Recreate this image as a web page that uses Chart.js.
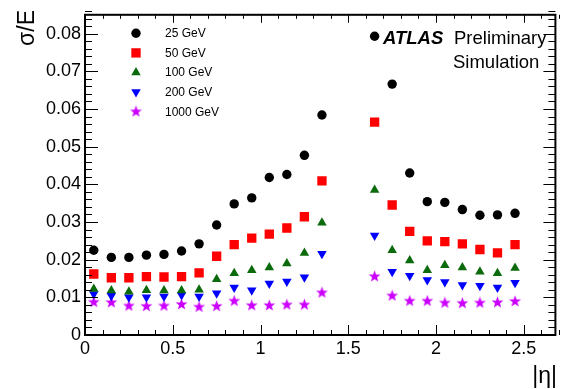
<!DOCTYPE html>
<html>
<head>
<meta charset="utf-8">
<script src="https://cdn.jsdelivr.net/npm/chart.js@4/dist/chart.umd.min.js"></script>
<style>
  html, body { margin: 0; padding: 0; background: #fff; }
  canvas { display: block; }
</style>
</head>
<body>
<canvas id="resChart" width="562" height="389"></canvas>
<script>
// Data (bin centres in |eta|, crack region 1.4-1.6 has no points)
const etaCenters = [0.05, 0.15, 0.25, 0.35, 0.45, 0.55, 0.65, 0.75, 0.85, 0.95, 1.05, 1.15, 1.25, 1.35,
                    1.65, 1.75, 1.85, 1.95, 2.05, 2.15, 2.25, 2.35, 2.45];
const energyLabels = ['25 GeV', '50 GeV', '100 GeV', '200 GeV', '1000 GeV'];

const sigma25   = [0.0225, 0.0206, 0.0206, 0.0212, 0.0214, 0.0223, 0.0242, 0.0292, 0.0348, 0.0364, 0.0418, 0.0426, 0.0477, 0.0584,
                   0.0793, 0.0666, 0.0430, 0.0354, 0.0352, 0.0333, 0.0318, 0.0319, 0.0323];
const sigma50   = [0.0162, 0.0152, 0.0152, 0.0155, 0.0154, 0.0155, 0.0165, 0.0209, 0.0240, 0.0257, 0.0268, 0.0284, 0.0314, 0.0409,
                   0.0565, 0.0345, 0.0275, 0.0250, 0.0248, 0.0242, 0.0227, 0.0218, 0.0240];
const sigma100  = [0.0122, 0.0118, 0.0115, 0.0119, 0.0118, 0.0118, 0.0120, 0.0148, 0.0164, 0.0172, 0.0179, 0.0190, 0.0218, 0.0298,
                   0.0385, 0.0225, 0.0198, 0.0172, 0.0185, 0.0179, 0.0168, 0.0164, 0.0178];
const sigma200  = [0.0109, 0.0104, 0.0100, 0.0100, 0.0102, 0.0106, 0.0102, 0.0111, 0.0126, 0.0119, 0.0137, 0.0142, 0.0153, 0.0216,
                   0.0264, 0.0168, 0.0157, 0.0146, 0.0141, 0.0133, 0.0131, 0.0126, 0.0139];
const sigma1000 = [0.0087, 0.0086, 0.0077, 0.0076, 0.0077, 0.0081, 0.0074, 0.0076, 0.0090, 0.0078, 0.0078, 0.0080, 0.0080, 0.0112,
                   0.0155, 0.0104, 0.0090, 0.0090, 0.0085, 0.0084, 0.0085, 0.0086, 0.0089];

const xTickValues = [0, 0.5, 1, 1.5, 2, 2.5];
const yTickValues = [0, 0.01, 0.02, 0.03, 0.04, 0.05, 0.06, 0.07, 0.08];

const X_MAX = 2.68;
const Y_MAX = 0.085;
const FONT = "'Liberation Sans', Arial, Helvetica, sans-serif";

// filled 5-point star, ROOT marker style 29
function makeStar(color) {
  const c = document.createElement('canvas');
  c.width = 13; c.height = 13;
  const g = c.getContext('2d');
  g.fillStyle = color;
  g.beginPath();
  for (let i = 0; i < 10; i++) {
    const r = i % 2 === 0 ? 6.2 : 2.6;
    const a = -Math.PI / 2 + i * Math.PI / 5;
    const px = 6.5 + r * Math.cos(a), py = 6.5 + r * Math.sin(a);
    if (i === 0) g.moveTo(px, py); else g.lineTo(px, py);
  }
  g.closePath();
  g.fill();
  return c;
}

const MARKERS = [
  { color: '#000000', style: 'circle',   radius: 4.7, rotation: 0 },
  { color: '#ff0000', style: 'rect',     radius: 6.6, rotation: 0 },
  { color: '#0b6a0b', style: 'triangle', radius: 5.5, rotation: 0 },
  { color: '#0000ff', style: 'triangle', radius: 5.5, rotation: 180 },
  { color: '#cc00ff', style: makeStar('#cc00ff'), radius: 6, rotation: 0 },
];

function toPoints(values) {
  return values.map((v, i) => ({ x: etaCenters[i], y: v }));
}

const seriesList = [sigma25, sigma50, sigma100, sigma200, sigma1000];
const datasets = seriesList.map((vals, i) => ({
  label: energyLabels[i],
  data: toPoints(vals),
  pointStyle: MARKERS[i].style,
  pointRadius: MARKERS[i].radius,
  pointRotation: MARKERS[i].rotation,
  pointBackgroundColor: MARKERS[i].color,
  pointBorderWidth: 0,
  showLine: false,
}));

// ROOT-like frame with inward ticks, axis titles, legend and ATLAS label
const rootFrame = {
  id: 'rootFrame',
  afterDraw(chart) {
    const ctx = chart.ctx;
    const { left, right, top, bottom } = chart.chartArea;
    const xs = chart.scales.x, ys = chart.scales.y;

    ctx.save();
    ctx.strokeStyle = '#000';
    ctx.lineWidth = 1;
    ctx.beginPath();
    for (let i = 0; i <= Math.round(X_MAX * 10); i++) {
      const v = i / 10;
      const px = Math.round(xs.getPixelForValue(v)) + 0.5;
      const len = i % 5 === 0 ? 10 : 5;
      ctx.moveTo(px, bottom); ctx.lineTo(px, bottom - len);
      ctx.moveTo(px, top); ctx.lineTo(px, top + (i % 5 === 0 ? 8 : 4));
    }
    for (let i = 0; i <= Math.round(Y_MAX * 500); i++) {
      const v = i / 500;
      const py = Math.round(ys.getPixelForValue(v)) + 0.5;
      const len = i % 5 === 0 ? 13 : 7;
      ctx.moveTo(left, py); ctx.lineTo(left + len, py);
      ctx.moveTo(right, py); ctx.lineTo(right - (i % 5 === 0 ? 12 : 7), py);
    }
    ctx.stroke();

    ctx.lineWidth = 2;
    ctx.strokeRect(left, top, right - left, bottom - top);

    // axis titles
    ctx.fillStyle = '#000';
    ctx.font = `23px ${FONT}`;
    ctx.textAlign = 'right';
    ctx.textBaseline = 'alphabetic';
    ctx.fillText('|η|', 557, 383);
    ctx.save();
    ctx.translate(34, 10);
    ctx.rotate(-Math.PI / 2);
    ctx.fillText('σ/E', 0, 0);
    ctx.restore();

    // legend
    ctx.textAlign = 'left';
    ctx.textBaseline = 'middle';
    ctx.font = `12px ${FONT}`;
    datasets.forEach((ds, i) => {
      const y = 33.3 + i * 19.6;
      ctx.fillStyle = MARKERS[i].color;
      Chart.helpers.drawPoint(ctx, {
        pointStyle: MARKERS[i].style,
        radius: MARKERS[i].radius,
        rotation: MARKERS[i].rotation,
        borderWidth: 0,
      }, 136, y);
      ctx.fillStyle = '#000';
      ctx.fillText(ds.label, 165, y + 0.5);
    });

    // experiment label
    ctx.textBaseline = 'alphabetic';
    ctx.font = `italic bold 18.5px ${FONT}`;
    ctx.fillText('ATLAS', 383, 44);
    ctx.font = `18.5px ${FONT}`;
    ctx.fillText('Preliminary', 454, 44);
    ctx.fillText('Simulation', 453, 68);
    ctx.restore();
  },
};

const ctx = document.getElementById('resChart').getContext('2d');
const chart = new Chart(ctx, {
  type: 'scatter',
  data: { datasets },
  options: {
    responsive: false,
    animation: false,
    layout: { padding: { top: 12, right: 2, left: 0, bottom: 0 } },
    plugins: { legend: { display: false }, tooltip: { enabled: false } },
    scales: {
      x: {
        type: 'linear',
        min: 0,
        max: X_MAX,
        afterFit: (scale) => { scale.height = 54; },
        afterBuildTicks: (scale) => { scale.ticks = xTickValues.map(v => ({ value: v })); },
        grid: { display: false, drawTicks: false },
        border: { display: false },
        ticks: {
          color: '#000',
          font: { size: 18, family: FONT },
          padding: 3,
          maxRotation: 0,
          autoSkip: false,
          callback: (v) => String(Math.round(v * 10) / 10),
        },
      },
      y: {
        type: 'linear',
        min: 0,
        max: Y_MAX,
        afterFit: (scale) => { scale.width = 85; },
        afterBuildTicks: (scale) => { scale.ticks = yTickValues.map(v => ({ value: v })); },
        grid: { display: false, drawTicks: false },
        border: { display: false },
        ticks: {
          color: '#000',
          font: { size: 18, family: FONT },
          padding: 4,
          autoSkip: false,
          callback: (v) => (v === 0 ? '0' : v.toFixed(2)),
        },
      },
    },
  },
  plugins: [rootFrame],
});
</script>
</body>
</html>
